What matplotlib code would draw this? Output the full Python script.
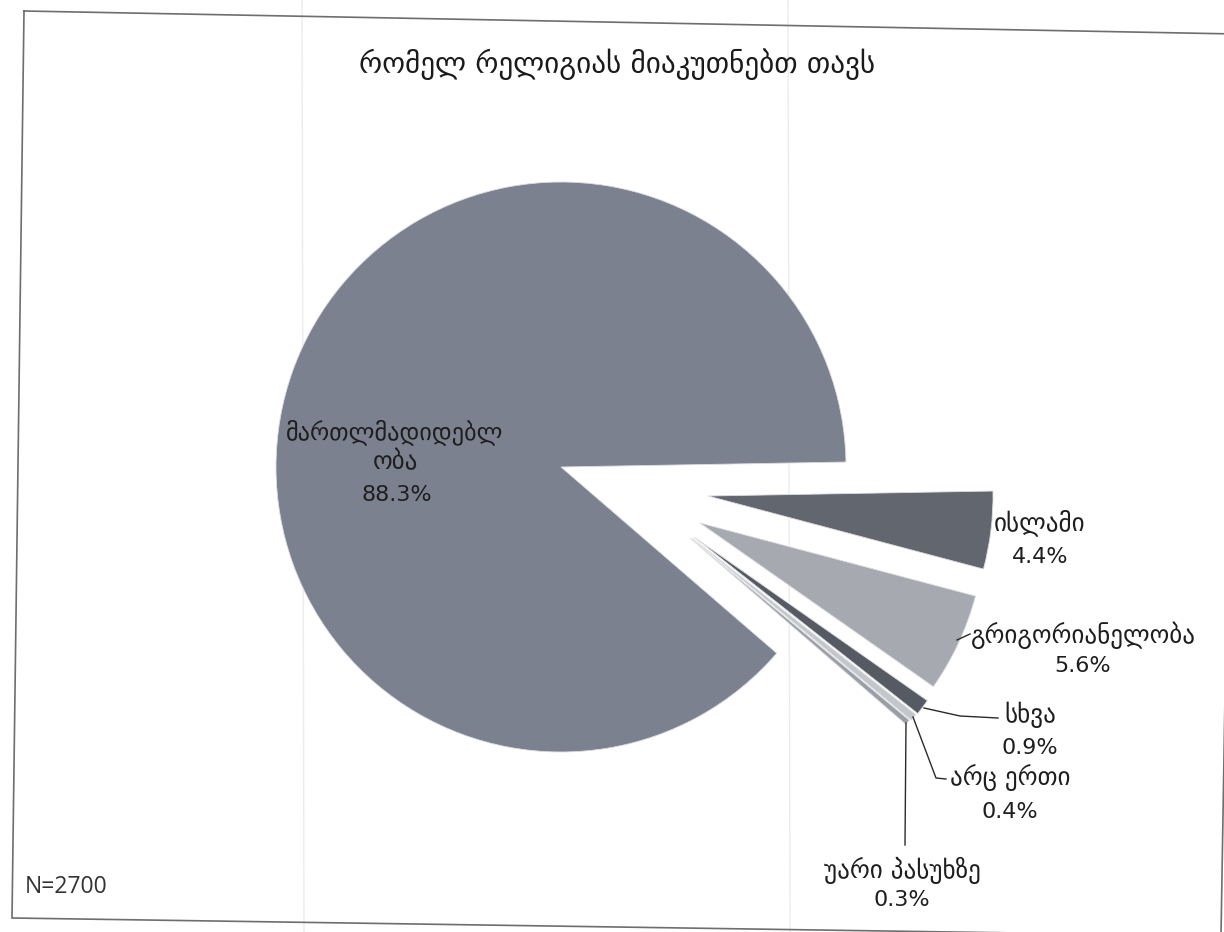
import matplotlib
matplotlib.use("Agg")
import matplotlib.pyplot as plt

# Survey answers (percent of respondents)
categories = ["ისლამი", "გრიგორიანელობა", "სხვა", "არც ერთი", "უარი პასუხზე",
              "მართლმადიდებლობა"]
shares = [4.4, 5.6, 0.9, 0.4, 0.3, 88.3]
title = "რომელ რელიგიას მიაკუთნებთ თავს"
sample_note = "N=2700"

W, H = 1224, 932
colors = ["#62666f", "#a6a9b0", "#565a62", "#c3c6cb", "#9a9ea6", "#7c8190"]

# offsets (pixels, y downward) of the pulled-out wedges
pull = [(147, 29), (139, 56), (133, 70), (131, 71), (129, 71), (0, 0)]
cx, cy, R = 561, 467, 285


def P(x, y):
    """pixel position (y downward) -> data position"""
    return x, H - y


fig = plt.figure(figsize=(W / 100, H / 100), dpi=100)
fig.patch.set_facecolor("white")
ax = fig.add_axes([0, 0, 1, 1])

wedges, _ = ax.pie(shares, radius=R, center=P(cx, cy), startangle=1.0,
                   counterclock=False, colors=colors,
                   wedgeprops=dict(linewidth=0.6, edgecolor="#dcdde0"))
for w, (dx, dy) in zip(wedges, pull):
    x0, y0 = w.center
    w.set_center((x0 + dx, y0 - dy))

ax.set_xlim(0, W)
ax.set_ylim(0, H)
ax.set_aspect("auto")
ax.axis("off")

# page frame (slightly skewed)
frame = [(24, 11), (1236, 34), (1221, 936), (12, 918), (24, 11)]
ax.plot([P(*p)[0] for p in frame], [P(*p)[1] for p in frame],
        color="#6e6e6e", lw=1.2, solid_joinstyle="miter")

# faint fold lines of the page
for fx in (302, 788):
    ax.plot([fx, fx + 2], [H, 0], color="#ececec", lw=1.0, zorder=0)

geo = ["DejaVu Sans"]
name_kw = dict(fontsize=18, color="#1e1e1e", family=geo, ha="center",
               va="center")
val_kw = dict(fontsize=16, color="#1e1e1e", family=geo, ha="center",
              va="center")

ax.text(*P(617, 64), title, fontsize=21, color="#1a1a1a", family=geo,
        ha="center", va="center")

# (x, y of name line, y of value line)
label_pos = [(1040, 523, 557), (1083, 635, 666), (1030, 715, 748),
             (1010, 778, 812), (902, 870, 900)]
for name, val, (lx, ny, vy) in zip(categories[:5], shares[:5], label_pos):
    ax.text(*P(lx, ny), name, **name_kw)
    ax.text(*P(lx, vy), f"{val}%", **val_kw)

ax.text(*P(395, 432), "მართლმადიდებლ", fontsize=17.5, color="#1e1e1e",
        family=geo, ha="center", va="center")
ax.text(*P(395, 462), "ობა", **name_kw)
ax.text(*P(397, 495), f"{shares[5]}%", **val_kw)

# leader lines
leaders = [
    [(957, 640), (970, 634)],
    [(924, 708), (960, 716), (998, 718)],
    [(913, 717), (936, 778), (946, 779)],
    [(906, 723), (905, 845)],
]
for pts in leaders:
    ax.plot([P(*p)[0] for p in pts], [P(*p)[1] for p in pts],
            color="#2a2a2a", lw=1.0)

ax.text(*P(25, 887), sample_note, fontsize=16.5, color="#333333",
        family=["Open Sans", "DejaVu Sans"], ha="left", va="center")

fig.savefig("out.png", dpi=100, facecolor="white")
